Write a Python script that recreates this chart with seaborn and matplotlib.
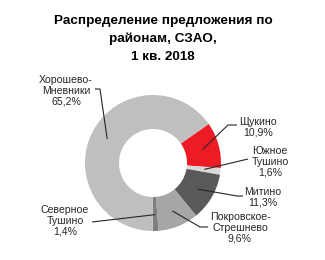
import numpy as np
import matplotlib
matplotlib.use("Agg")
import matplotlib.pyplot as plt
import seaborn as sns

# Data
districts = ["Щукино", "Южное\nТушино", "Митино", "Покровское-\nСтрешнево",
             "Северное\nТушино", "Хорошево-\nМневники"]
shares = [10.9, 1.6, 11.3, 9.6, 1.4, 65.2]
share_labels = ["10,9%", "1,6%", "11,3%", "9,6%", "1,4%", "65,2%"]
colors = ["#ED1C24", "#D9D9D9", "#595959", "#A6A6A6", "#7F7F7F", "#BFBFBF"]
title = "Распределение предложения по\nрайонам, СЗАО,\n1 кв. 2018"

sns.set_theme(style="white")
plt.rcParams['font.family'] = ['Liberation Sans', 'DejaVu Sans']

W, H = 325, 260
fig = plt.figure(figsize=(W / 100, H / 100), dpi=100)
ax = fig.add_axes([0, 0, 1, 1])

cx, cy, R = 153, 163, 68
wedges, _ = ax.pie(shares, colors=colors, startangle=-35, counterclock=True,
                   radius=R, center=(cx, cy), frame=True,
                   wedgeprops=dict(width=R * 0.5, linewidth=0))
ax.set_xlim(0, W)
ax.set_ylim(H, 0)
ax.set_aspect("equal")
ax.axis("off")

# label layout: (text x, text center y, elbow points)
layout = [
    (258, 127, [(228, 125), (237, 125)]),
    (270, 162, [(248, 159)]),
    (263, 197, [(237, 196), (243, 196)]),
    (240, 228, [(200, 227), (208, 227)]),
    (65, 221, [(92, 222)]),
    (66, 91, [(100, 89), (95, 89)]),
]

for w, name, pct, (tx, ty, pts) in zip(wedges, districts, share_labels, layout):
    mid = np.deg2rad((w.theta1 + w.theta2) / 2)
    ax_ = cx + 0.76 * R * np.cos(mid)
    ay_ = cy + 0.76 * R * np.sin(mid)
    xs = [ax_] + [p[0] for p in pts]
    ys = [ay_] + [p[1] for p in pts]
    ax.plot(xs, ys, color="#262626", lw=0.8, solid_capstyle="butt")
    ax.text(tx, ty, name + "\n" + pct, ha="center", va="center",
            fontsize=7.6, color="#262626", linespacing=1.1)

ax.text(163, 39, title, ha="center", va="center", fontsize=9.7,
        fontweight="bold", color="black", linespacing=1.6)

fig.savefig("out.png", dpi=100, facecolor="white")
